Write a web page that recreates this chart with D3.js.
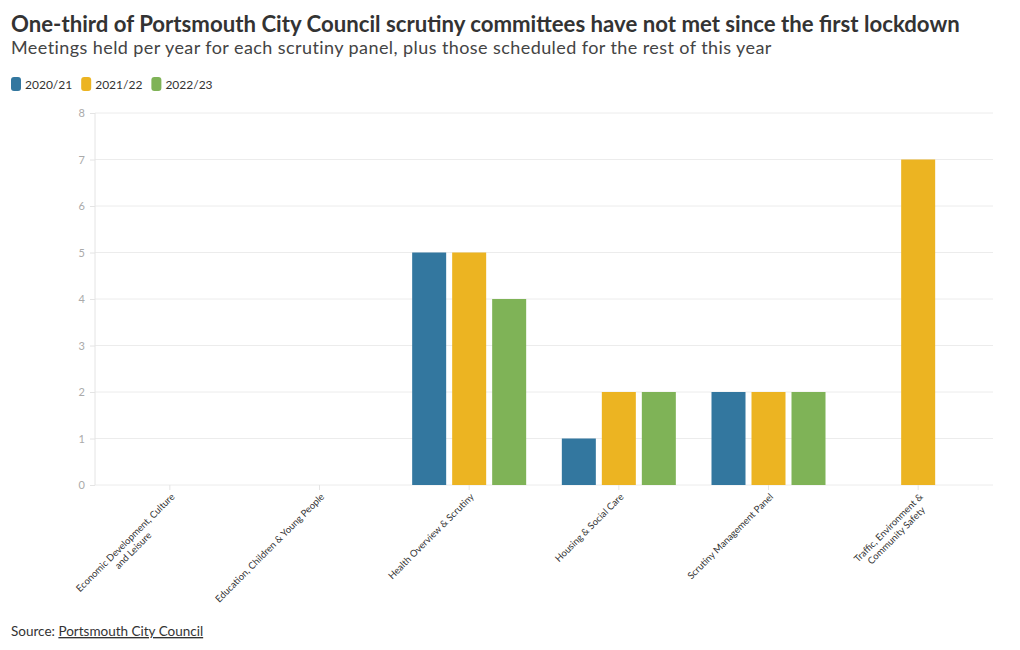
<!DOCTYPE html>
<html><head><meta charset="utf-8">
<script src="https://cdn.jsdelivr.net/npm/d3@7"></script>
<style>
body{margin:0;background:#fff;font-family:"Lato","Open Sans",sans-serif;}
svg text{font-family:"Lato","Open Sans",sans-serif;}
</style></head><body>
<svg id="c" width="1020" height="650"></svg>
<script>
const categories = [
  ["Economic Development, Culture","and Leisure"],
  ["Education, Children & Young People"],
  ["Health Overview & Scrutiny"],
  ["Housing & Social Care"],
  ["Scrutiny Management Panel"],
  ["Traffic, Environment &","Community Safety"]
];
const seriesNames = ["2020/21","2021/22","2022/23"];
const colors = ["#33779f","#ecb422","#7fb357"];
const v2020 = [0,0,5,1,2,0];
const v2021 = [0,0,5,2,2,7];
const v2022 = [0,0,4,2,2,0];
const yTicks = [0,1,2,3,4,5,6,7,8];
const series = [v2020,v2021,v2022];

const svg = d3.select("#c");
const m={l:95,r:993,t:113,b:485};

svg.append("text").attr("x",11).attr("y",32).attr("font-size",22.2).attr("font-weight",700).attr("fill","#333")
  .text("One-third of Portsmouth City Council scrutiny committees have not met since the first lockdown");
svg.append("text").attr("x",11).attr("y",54).attr("font-size",18).attr("letter-spacing",0.42).attr("fill","#444")
  .text("Meetings held per year for each scrutiny panel, plus those scheduled for the rest of this year");

// legend
let lx=11;
seriesNames.forEach((s,i)=>{
  const g=svg.append("g").attr("transform",`translate(${lx},77)`);
  g.append("rect").attr("width",10).attr("height",14).attr("rx",3).attr("fill",colors[i]);
  const t=g.append("text").attr("x",14).attr("y",12).attr("font-size",12).attr("fill","#333").text(s);
  lx+=14+t.node().getComputedTextLength()+9;
});

const x=d3.scaleBand().domain(d3.range(categories.length)).range([m.l,m.r]);
const x1=d3.scaleBand().domain(d3.range(3)).range([0,114]).paddingInner(0.15).paddingOuter(0);
const y=d3.scaleLinear().domain([0,8]).range([m.b,m.t]);

// grid
svg.append("g").selectAll("line").data(yTicks).join("line")
  .attr("x1",m.l).attr("x2",m.r).attr("y1",d=>y(d)).attr("y2",d=>y(d))
  .attr("stroke","#ececec").attr("stroke-width",1);
svg.append("line").attr("x1",m.l).attr("x2",m.l).attr("y1",m.t).attr("y2",m.b).attr("stroke","#e4e4e4");

const ya=svg.append("g").attr("transform",`translate(${m.l},0)`)
  .call(d3.axisLeft(y).tickValues(yTicks).tickSize(5).tickPadding(5));
ya.select(".domain").remove();
ya.selectAll(".tick line").attr("stroke","#e4e4e4");
ya.selectAll("text").attr("fill","#aaa").attr("font-size",11);

// bars
categories.forEach((c,ci)=>{
  const cx=x(ci)+x.bandwidth()/2;
  series.forEach((s,si)=>{
    if(s[ci]>0){
      svg.append("rect").attr("x",cx-57+x1(si)).attr("width",x1.bandwidth())
        .attr("y",y(s[ci])).attr("height",y(0)-y(s[ci])).attr("fill",colors[si]);
    }
  });
});

// x ticks and labels
const xa=svg.append("g");
categories.forEach((c,ci)=>{
  const cx=x(ci)+x.bandwidth()/2;
  xa.append("line").attr("x1",cx).attr("x2",cx).attr("y1",m.b).attr("y2",m.b+5).attr("stroke","#e4e4e4");
  const g=xa.append("g").attr("transform",`translate(${cx+3},${m.b+10}) rotate(-45)`);
  const ts=c.map((line,li)=>g.append("text").attr("font-size",9.5).attr("fill","#333")
      .attr("text-anchor","end").attr("y",li*11).attr("dy","0.35em").text(line));
  const ws=ts.map(t=>t.node().getComputedTextLength());
  const mw=d3.max(ws);
  ts.forEach((t,i)=>t.attr("x",-(mw-ws[i])/2));
});

// source
const st=svg.append("text").attr("x",11).attr("y",636).attr("font-size",13.5).attr("fill","#333");
st.append("tspan").text("Source: ");
st.append("tspan").attr("text-decoration","underline").text("Portsmouth City Council");
</script></body></html>
